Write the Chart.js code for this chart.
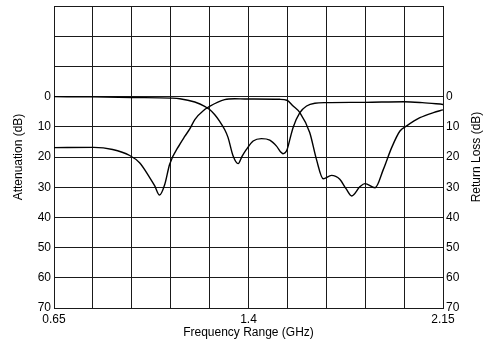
<!DOCTYPE html>
<html>
<head>
<meta charset="utf-8">
<script src="https://cdn.jsdelivr.net/npm/chart.js@4.4.1/dist/chart.umd.min.js"></script>
<style>
  html, body { margin: 0; padding: 0; background: #fff; }
  #wrap { position: relative; width: 487px; height: 343px; }
</style>
</head>
<body>
<div id="wrap"><canvas id="chart"></canvas></div>
<script>
// frequency grid (GHz) and labelled ticks
const freqTicks = [0.65, 0.8, 0.95, 1.1, 1.25, 1.4, 1.55, 1.7, 1.85, 2.0, 2.15];
const freqLabels = [0.65, 1.4, 2.15];

// attenuation curve (starts at 0 dB)
const attFreq = [0.65, 0.80, 0.95, 1.10, 1.135, 1.193, 1.231, 1.25, 1.27, 1.289, 1.308, 1.321, 1.34, 1.36,
  1.375, 1.392, 1.418, 1.45, 1.482, 1.508, 1.525, 1.533, 1.549, 1.56, 1.572, 1.598, 1.624, 1.656,
  1.70, 1.85, 2.00, 2.07, 2.15];
const attDb = [0, 0.1, 0.3, 0.5, 0.7, 1.8, 3.2, 4.3, 6.0, 8.2, 10.9, 13.5, 19.5, 22.2,
  19.8, 17.5, 14.7, 13.9, 14.4, 16.4, 18.4, 18.9, 17.5, 14.0, 10.2, 5.3, 3.1, 2.2,
  2.0, 1.9, 1.7, 2.0, 2.6];

// return loss curve (starts near 17 dB)
const rlFreq = [0.65, 0.803, 0.876, 0.942, 0.98, 1.019, 1.038, 1.057, 1.077, 1.096, 1.135, 1.154, 1.173,
  1.193, 1.231, 1.25, 1.308, 1.347, 1.386, 1.521, 1.548, 1.572, 1.598, 1.636, 1.662, 1.688, 1.72, 1.752,
  1.776, 1.798, 1.83, 1.849, 1.888, 1.92, 1.952, 1.984, 2.01, 2.061, 2.113, 2.15];
const rlDb = [16.9, 16.8, 17.5, 19.5, 21.9, 26.8, 29.5, 32.6, 29.1, 22.4, 15.8, 13.2, 10.8,
  7.6, 4.3, 3.2, 1.0, 0.7, 0.8, 0.9, 1.2, 3.1, 5.3, 11.9, 20.8, 27.2, 26.1, 27.4,
  30.5, 32.9, 29.8, 28.8, 30.2, 24.1, 16.9, 11.4, 9.7, 7.0, 5.3, 4.4];

const FONT = { family: 'Liberation Sans, Arial, sans-serif', size: 12 };
const GRID = '#1a1a1a';

const pts = (xs, ys) => xs.map((x, i) => ({ x, y: ys[i] }));

const line = (data) => ({
  data,
  borderColor: '#000',
  borderWidth: 1.4,
  pointRadius: 0,
  fill: false,
  cubicInterpolationMode: 'monotone',
  yAxisID: 'y'
});

// right axis title reads bottom to top, chart.js would flip it
const rightTitle = {
  id: 'rightTitle',
  afterDraw(chart) {
    const { ctx, chartArea } = chart;
    ctx.save();
    ctx.translate(477, (chartArea.top + chartArea.bottom) / 2);
    ctx.rotate(-Math.PI / 2);
    ctx.font = FONT.size + 'px ' + FONT.family;
    ctx.fillStyle = '#000';
    ctx.textAlign = 'center';
    ctx.textBaseline = 'middle';
    ctx.fillText('Return Loss (dB)', 0, 0);
    ctx.restore();
  }
};

const yTicks = {
  stepSize: 10,
  padding: 3,
  color: '#000',
  font: FONT,
  callback: v => (v >= 0 ? v : '')
};

// fixed axis width, and no extra room for half labels at the ends
const fitY = w => s => { s.width = w; s.paddingTop = 0; s.paddingBottom = 0; };

new Chart(document.getElementById('chart'), {
  type: 'line',
  data: {
    datasets: [line(pts(attFreq, attDb)), line(pts(rlFreq, rlDb))]
  },
  options: {
    responsive: true,
    maintainAspectRatio: false,
    animation: false,
    layout: { padding: { top: 6 } },
    plugins: { legend: { display: false }, tooltip: { enabled: false } },
    scales: {
      x: {
        type: 'linear',
        min: 0.65,
        max: 2.15,
        afterBuildTicks: s => { s.ticks = freqTicks.map(v => ({ value: v })); },
        afterFit: s => { s.height = 35; },
        grid: { color: GRID, drawTicks: false },
        border: { color: GRID },
        ticks: {
          padding: 4,
          color: '#000',
          font: FONT,
          maxRotation: 0,
          autoSkip: false,
          callback: v => (freqLabels.some(l => Math.abs(l - v) < 1e-6) ? String(v) : '')
        },
        title: { display: true, text: 'Frequency Range (GHz)', color: '#000', font: FONT, padding: { top: 0, bottom: 3 } }
      },
      y: {
        position: 'left',
        min: -30,
        max: 70,
        reverse: true,
        afterFit: fitY(54),
        grid: { color: GRID, drawTicks: false },
        border: { color: GRID },
        ticks: yTicks,
        title: { display: true, text: 'Attenuation (dB)', color: '#000', font: FONT, padding: { top: 11, bottom: 0 } }
      },
      y2: {
        position: 'right',
        min: -30,
        max: 70,
        reverse: true,
        afterFit: fitY(44),
        grid: { drawOnChartArea: false, drawTicks: false },
        border: { color: GRID },
        ticks: yTicks
      }
    }
  },
  plugins: [rightTitle]
});
</script>
</body>
</html>
